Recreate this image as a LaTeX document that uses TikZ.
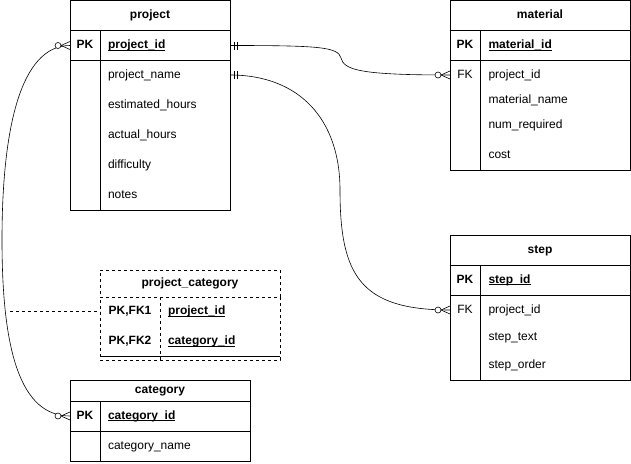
\documentclass[tikz,border=0pt]{standalone}
\usepackage{fontspec}
\setmainfont{Liberation Sans}
\usetikzlibrary{positioning}
\def\KeyLine#1{\setbox0\hbox{#1}\rlap{\rule[-2.2pt]{\wd0}{0.9pt}}\box0}
\def\Entity#1#2#3#4#5#6#7{%
 \node[entity part, minimum width=#4pt, minimum height=#5pt] (#1) at (#2+#4/2,#3+#5/2) {\textbf{#7}};
 \node[entity part, minimum width=#4pt, minimum height=30pt, below=0pt of #1] (#1-pkrow) {};
 \node[entity part, minimum width=#4pt, minimum height=#6pt, below=0pt of #1-pkrow] (#1-body) {};
 \draw[entity line] (#2+30,#3+#5) -- (#2+30,#3+#5+30+#6);
}
\tikzset{
  every node/.style={inner sep=0pt, outer sep=0pt, text height=9pt, text depth=3pt,
      font=\fontsize{12}{14}\selectfont},
  entity part/.style={draw, line width=0.8pt},
  entity line/.style={line width=0.8pt},
  key/.style={font=\fontsize{12}{14}\selectfont\bfseries},
  field/.style={right},
  key field/.style={right, font=\fontsize{12}{14}\selectfont\bfseries},
  relation/.style={line width=0.6pt},
  zero many/.pic={
    \draw[relation] (-9,0) -- (0,4) (-9,0) -- (0,-4);
    \draw[relation, fill=white] (-12,0) circle (3pt);
  },
  one only/.pic={
    \draw[relation] (4,-4) -- (4,4) (7.5,-4) -- (7.5,4);
  }
}

\begin{document}
\begin{tikzpicture}[x=1pt, y=-1pt]
\useasboundingbox (0,0) rectangle (631,463);

% project
\Entity{project}{70}{0.5}{160}{30}{150}{project}
\node[key] (project-pk) at (85,45.5) {PK};
\node[key field] (project-id) at (108,45.5) {\KeyLine{project\_id}};
\foreach \y/\f [count=\i] in {75/project\_name, 105/estimated\_hours,
    135/actual\_hours, 165/difficulty, 195/notes}
  \node[field] (project-f\i) at (108,\y) {\f};

% material
\Entity{material}{450}{0.5}{180}{30}{110}{material}
\node[key] (material-pk) at (465,45.5) {PK};
\node[key field] (material-id) at (488.5,45.5) {\KeyLine{material\_id}};
\node (material-fk) at (465,75) {FK};
\foreach \y/\f [count=\i] in {75/project\_id, 100/material\_name,
    125/num\_required, 155/cost}
  \node[field] (material-f\i) at (488.5,\y) {\f};

% step
\Entity{step}{450}{235}{180}{30}{85}{step}
\node[key] (step-pk) at (465,280) {PK};
\node[key field] (step-id) at (488.5,280) {\KeyLine{step\_id}};
\node (step-fk) at (465,310) {FK};
\foreach \y/\f [count=\i] in {310/project\_id, 337.5/step\_text, 365/step\_order}
  \node[field] (step-f\i) at (488.5,\y) {\f};

% category
\Entity{category}{70}{380}{180}{21}{30}{category}
\node[key] (category-pk) at (85,416) {PK};
\node[key field] (category-id) at (108,416) {\KeyLine{category\_id}};
\node[field] (category-f1) at (108,446) {category\_name};

% project_category
\node[entity part, dashed, minimum width=180pt, minimum height=27pt] (projcat) at (190,283.5) {\textbf{project\_category}};
\node[entity part, dashed, minimum width=180pt, minimum height=63pt, below=0pt of projcat] (projcat-body) {};
\draw[entity line, dashed] (160,297) -- (160,360);
\draw[entity line] (100,356) -- (280,356);
\node[key] (projcat-k1) at (130,311.5) {PK,FK1};
\node[key field] (projcat-f1) at (168,311.5) {\KeyLine{project\_id}};
\node[key] (projcat-k2) at (130,341.5) {PK,FK2};
\node[key field] (projcat-f2) at (168,341.5) {\KeyLine{category\_id}};

% relations
\draw[relation] (project-pkrow.east) .. controls (320,45.5) and (338,47) .. (341,58)
  .. controls (344,70) and (360,75) .. (material-body.west |- material-f1);
\draw[relation] (project-body.east |- project-f1) .. controls (300,75) and (340,120) .. (340,190)
  .. controls (340,275) and (360,310) .. (step-body.west |- step-f1);
\draw[relation] (project-pkrow.west) .. controls (20,45.5) and (2,130) .. (2,240)
  .. controls (2,350) and (20,416) .. (category-pkrow.west);
\coordinate (link) at (10,311.5);
\draw[relation, dashed] (link) -- (projcat-body.west |- projcat-f1);

\pic at (material-body.west |- material-f1) {zero many};
\pic at (step-body.west |- step-f1) {zero many};
\pic at (project-pkrow.west) {zero many};
\pic at (category-pkrow.west) {zero many};
\pic at (project-pkrow.east) {one only};
\pic at (project-body.east |- project-f1) {one only};
\end{tikzpicture}
\end{document}
